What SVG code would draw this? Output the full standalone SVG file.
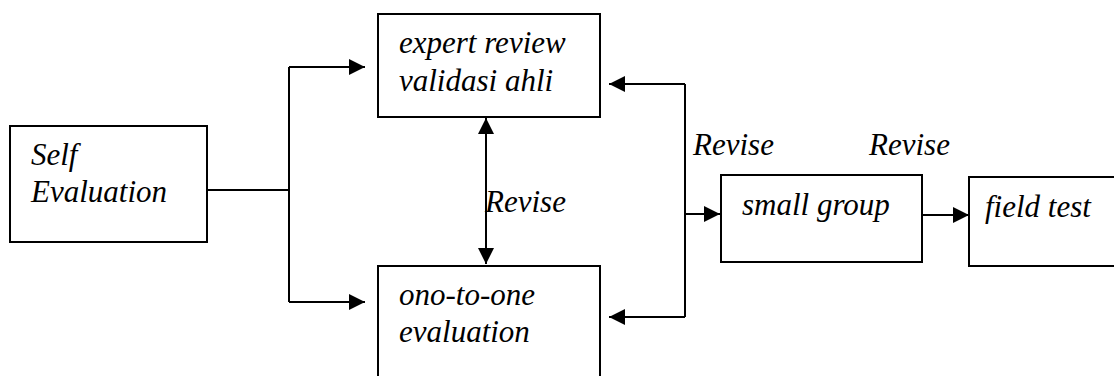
<svg xmlns="http://www.w3.org/2000/svg" width="1114" height="376" viewBox="0 0 1114 376">
<style>
.box{fill:#fff;stroke:#000;stroke-width:2}
.ln{fill:none;stroke:#000;stroke-width:2}
</style>
<defs>
<marker id="ah" markerUnits="userSpaceOnUse" markerWidth="17" markerHeight="16" refX="16" refY="8" orient="auto-start-reverse">
<path d="M0,0 L16,8 L0,16 Z" fill="#000"/>
</marker>
</defs>
<rect width="1114" height="376" fill="#fff"/>
<g id="self-evaluation">
<rect class="box" x="10" y="126" width="197" height="116"/>
<text x="31" y="165" font-family="'Liberation Serif', 'Times New Roman', serif" font-size="31" font-style="italic">Self</text>
<text x="31" y="202" font-family="'Liberation Serif', 'Times New Roman', serif" font-size="31" font-style="italic">Evaluation</text>
</g>
<g id="expert-review">
<rect class="box" x="378" y="14" width="222" height="103"/>
<text x="399" y="53" font-family="'Liberation Serif', 'Times New Roman', serif" font-size="31" font-style="italic">expert review</text>
<text x="399" y="91" font-family="'Liberation Serif', 'Times New Roman', serif" font-size="31" font-style="italic">validasi ahli</text>
</g>
<g id="one-to-one">
<rect class="box" x="378" y="266" width="222" height="120"/>
<text x="399" y="305" font-family="'Liberation Serif', 'Times New Roman', serif" font-size="31" font-style="italic">ono-to-one</text>
<text x="399" y="342" font-family="'Liberation Serif', 'Times New Roman', serif" font-size="31" font-style="italic">evaluation</text>
</g>
<g id="small-group">
<rect class="box" x="721" y="175" width="201" height="87"/>
<text x="742" y="215" font-family="'Liberation Serif', 'Times New Roman', serif" font-size="31" font-style="italic">small group</text>
</g>
<g id="field-test">
<rect class="box" x="969" y="177" width="160" height="89"/>
<text x="985" y="217" font-family="'Liberation Serif', 'Times New Roman', serif" font-size="31" font-style="italic">field test</text>
</g>
<g id="connectors">
<path class="ln" d="M207,190 H289"/>
<path class="ln" d="M289,67 V302"/>
<path class="ln" d="M289,67 H365" marker-end="url(#ah)"/>
<path class="ln" d="M289,302 H365" marker-end="url(#ah)"/>
<path class="ln" d="M486,118 V264" marker-start="url(#ah)" marker-end="url(#ah)"/>
<path class="ln" d="M685,84 V317"/>
<path class="ln" d="M685,84 H609" marker-end="url(#ah)"/>
<path class="ln" d="M685,317 H609" marker-end="url(#ah)"/>
<path class="ln" d="M685,214 H720" marker-end="url(#ah)"/>
<path class="ln" d="M922,215 H969" marker-end="url(#ah)"/>
</g>
<g id="labels">
<text x="485" y="212" font-family="'Liberation Serif', 'Times New Roman', serif" font-size="31" font-style="italic">Revise</text>
<text x="693" y="155" font-family="'Liberation Serif', 'Times New Roman', serif" font-size="31" font-style="italic">Revise</text>
<text x="869" y="155" font-family="'Liberation Serif', 'Times New Roman', serif" font-size="31" font-style="italic">Revise</text>
</g>
</svg>
